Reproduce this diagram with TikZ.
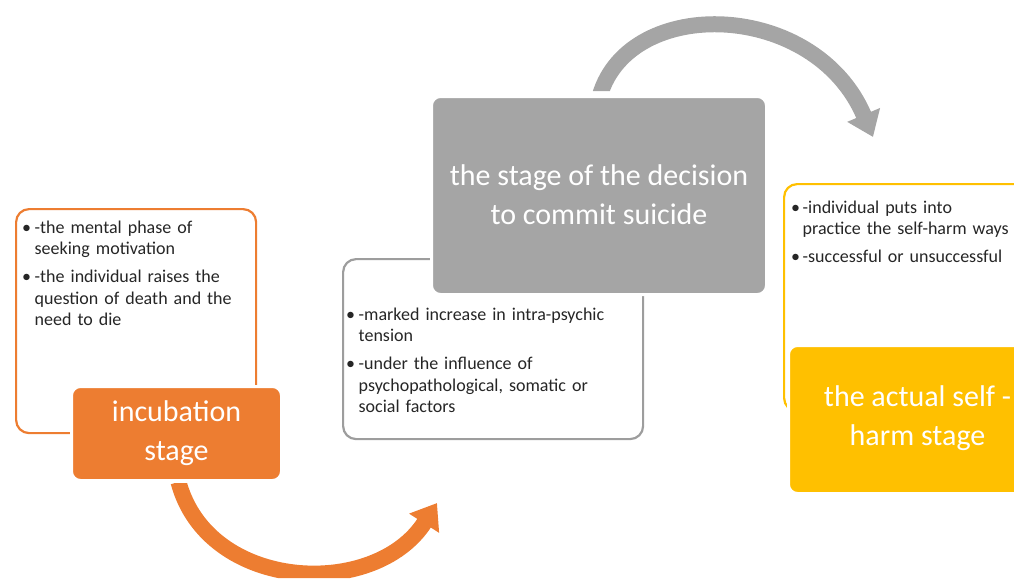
\documentclass[tikz,border=0pt]{standalone}
\usepackage{fontspec}
\setmainfont{Carlito}
\usetikzlibrary{arrows.meta,calc}
\definecolor{sorange}{HTML}{ED7D31}
\definecolor{sgray}{HTML}{A5A5A5}
\definecolor{syellow}{HTML}{FFC000}
\definecolor{stext}{HTML}{262626}

% one bulleted paragraph: the bullet, then its lines in a hanging block;
% the depth of the block's last line is handed on so that the
% baseline spacing to the next paragraph stays regular
\newlength\bulletgap
\setlength\bulletgap{12.5pt}
\newcommand\bulletpt[1]{\par\noindent\makebox[\bulletgap][l]{•}%
  \parbox[t]{\dimexpr\linewidth-\bulletgap\relax}{#1\par\xdef\bulletpd{\the\prevdepth}}%
  \par\prevdepth=\bulletpd\relax}

\begin{document}
\begin{tikzpicture}[x=1pt,y=-1pt,
  notebox/.style={draw=#1, line width=2.2pt, rounded corners=13pt, fill=white,
    inner sep=0pt, anchor=north west},
  stagebox/.style={fill=#1, draw=white, line width=3pt, rounded corners=9pt,
    inner sep=0pt, anchor=north west},
  notetext/.style={anchor=north west, inner sep=0pt, text width=#1, text=stext,
    font=\fontsize{18}{21.5}\selectfont,
    execute at begin node={\setlength{\parskip}{6.5pt}}},
  stagetext/.style={align=center, text=white, inner sep=0pt,
    font=\fontsize{30}{39}\selectfont},
  flow/.style={draw=#1, line width=16pt,
    -{Triangle[width=34pt,length=24pt]}}]

\useasboundingbox (0,0) rectangle (1014,578);
\clip (0,0) rectangle (1014,578);

% ---- stage boxes with their notes ----
\node[notebox=sorange, minimum width=240pt, minimum height=224pt] (incnote) at (15,208) {};
\node[notebox=sgray!95!black, minimum width=300pt, minimum height=180pt] (decnote) at (342,258) {};
\node[notebox=syellow, minimum width=260pt, minimum height=227pt] (actnote) at (783,183) {};

\node[stagebox=sorange, minimum width=210pt, minimum height=94pt] (inc) at (70,385) {};
\node[stagebox=sgray, minimum width=335pt, minimum height=198pt] (dec) at (430,95) {};
\node[stagebox=syellow, minimum width=262pt, minimum height=148pt] (act) at (787,344) {};

\node[stagetext] (inclabel) at (inc.center) {incubation\\stage};
\node[stagetext] (declabel) at ($(dec.center)+(0,-1)$) {the stage of the decision\\to commit suicide};
\node[stagetext] (actlabel) at ($(act.center)+(-2,-1)$) {the actual self -\\harm stage};

\node[notetext=230pt] (incpts) at (22,205) {%
  \bulletpt{-the mental phase of\\seeking motivation}
  \bulletpt{-the individual raises the\\question of death and the\\need to die}};
\node[notetext=290pt] (decpts) at (346,292) {%
  \bulletpt{-marked increase in intra-psychic\\tension}
  \bulletpt{-under the influence of\\psychopathological, somatic or\\social factors}};
\node[notetext=240pt] (actpts) at (791,185) {%
  \setlength\bulletgap{11.5pt}%
  \bulletpt{-individual puts into\\practice the self-harm ways}
  \bulletpt{-successful or unsuccessful}};

% ---- curved arrows between the stages ----
\coordinate (inctip) at (437,503);
\coordinate (dectip) at (873,137);

\begin{scope}
  \clip (0,483) -- (320,483) -- (320,0) -- (1014,0) -- (1014,578) -- (0,578) -- cycle;
  \draw[flow=sorange] ([xshift=2pt]inc.south)
    .. controls (208,592) and (375,600) .. (inctip);
\end{scope}

\begin{scope}
  \clip (0,0) -- (1014,0) -- (1014,578) -- (700,578) -- (700,91) -- (0,91) -- cycle;
  \draw[flow=sgray] ([xshift=1pt]dec.north)
    .. controls (630,-5) and (815,0) .. (dectip);
\end{scope}

\end{tikzpicture}
\end{document}
